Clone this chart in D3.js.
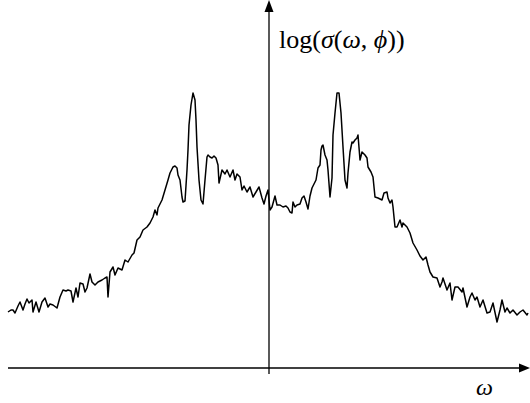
<!DOCTYPE html>
<html><head><meta charset="utf-8">
<script src="https://cdn.jsdelivr.net/npm/d3@7"></script>
<style>html,body{margin:0;padding:0;background:#fff;overflow:hidden}
text{font-family:'Liberation Serif','DejaVu Serif',serif;}</style>
</head><body>
<svg id="c" width="530" height="403"></svg>
<script>
// omega (relative units, 0 at the vertical axis) and log sigma (height above the omega axis)
const omega = [-261,-258,-256,-254,-251,-249,-246,-244,-242,-240,-237,-236,-233,-230,-227,-224,-221,-219,-216,-212,-209,-206,-203,-201,-198,-196,-193,-191,-189,-186,-184,-182,-179,-177,-174,-171,-167,-164,-162,-161,-159,-156,-154,-151,-147,-144,-141,-137,-135,-132,-129,-126,-122,-119,-116,-114,-112,-111,-107,-104,-101,-99,-96,-94,-92,-91,-89,-87,-86,-84,-82,-81,-80,-78,-76,-74,-73,-72,-70,-68,-66,-64,-62,-61,-59,-57,-55,-53,-51,-50,-47,-44,-42,-39,-36,-34,-32,-29,-27,-25,-22,-19,-16,-13,-10,-7,-5,-3,-1,1,3,6,8,11,14,17,19,21,23,24,26,28,31,33,35,37,39,41,43,45,47,49,51,52,53,54,56,58,59,61,63,64,66,68,70,72,74,76,78,79,81,83,84,86,88,89,91,93,96,98,99,102,104,106,109,113,115,118,119,121,123,124,126,128,131,133,134,138,141,144,148,151,154,157,159,161,164,168,171,173,174,178,181,183,186,189,193,194,198,201,203,206,208,211,214,218,221,224,228,231,233,236,238,241,244,248,251,254,258,259];
const logSigma = [56,58,58,55,62,66,58,64,69,65,68,56,66,56,66,70,61,64,63,60,71,78,77,78,77,66,80,71,85,84,76,80,94,86,83,86,88,90,91,71,96,101,93,100,98,108,106,113,115,128,131,138,141,145,151,158,153,160,168,178,188,195,201,202,200,193,188,171,166,167,198,218,243,263,275,268,248,221,188,168,164,188,211,213,211,210,212,210,203,185,198,194,198,191,198,188,194,191,178,182,176,181,171,176,181,170,164,172,178,158,161,172,163,163,161,162,160,156,155,166,161,163,164,170,172,166,159,172,180,184,188,200,203,218,222,223,213,208,198,171,190,233,255,275,275,255,221,188,180,195,216,226,225,228,230,233,208,216,213,210,201,196,191,171,170,168,175,176,170,165,168,161,141,141,148,141,145,141,135,125,118,112,108,111,103,96,91,90,81,86,90,78,85,68,81,81,76,80,61,71,75,68,71,61,68,55,56,65,46,58,68,56,60,55,58,53,56,58,53,55];
const yLabelParts = [["log(", false], ["σ", true], ["(", false], ["ω", true], [", ", false], ["ϕ", true], ["))", false]];
const xLabel = "ω";

const svg = d3.select("#c");
const x = d3.scaleLinear().domain([-261, 259]).range([8, 528]);
const y = d3.scaleLinear().domain([0, 368]).range([368, 0]);

const pts = omega.map((o, i) => [o, logSigma[i]]);

// axes
const x0 = x(0), y0 = y(0);
svg.append("line").attr("x1", 8).attr("x2", 520).attr("y1", y0).attr("y2", y0)
  .attr("stroke", "#000").attr("stroke-width", 1.3);
svg.append("path").attr("d", `M530,${y0} L519,${y0-4.5} L519,${y0+4.5} Z`).attr("fill", "#000");
svg.append("line").attr("x1", x0).attr("x2", x0).attr("y1", 374).attr("y2", 10)
  .attr("stroke", "#000").attr("stroke-width", 1.3);
svg.append("path").attr("d", `M${x0},0 L${x0-4.5},12 L${x0+4.5},12 Z`).attr("fill", "#000");

// curve
const line = d3.line().x(d => x(d[0])).y(d => y(d[1]));
svg.append("path").datum(pts).attr("d", line)
  .attr("fill", "none").attr("stroke", "#000").attr("stroke-width", 1.5).attr("stroke-linejoin", "round");

// labels
const ylab = svg.append("text").attr("x", 279).attr("y", 48).attr("font-size", 26);
yLabelParts.forEach(([t, it]) => ylab.append("tspan").attr("font-style", it ? "italic" : "normal").text(t));

svg.append("text").attr("x", 476).attr("y", 395).attr("font-size", 24).attr("font-style", "italic").text(xLabel);
</script>
</body></html>
